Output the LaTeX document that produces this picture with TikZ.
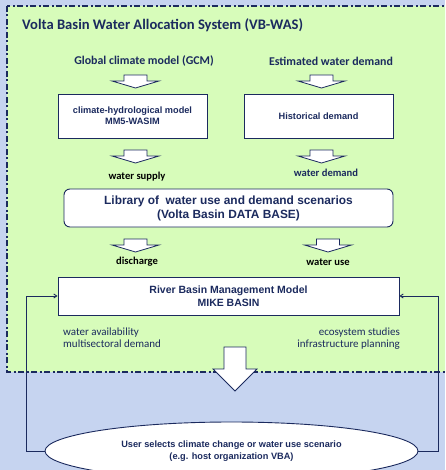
\documentclass[tikz,border=0pt]{standalone}
\usepackage{fontspec}
\setmainfont{Liberation Sans}
\newfontfamily\carlitofont{Carlito}
\usetikzlibrary{shapes.geometric,arrows.meta}
\definecolor{navy}{HTML}{1B2A5E}
\definecolor{bgblue}{HTML}{C6D4F0}
\definecolor{bggreen}{HTML}{D7FCBA}
\tikzset{
  box/.style={draw=navy, line width=0.9pt, fill=white, inner sep=0pt, align=center, text=navy, font=\bfseries\fontsize{9.2}{11}\selectfont},
  lbl/.style={inner sep=0pt, text=navy, font=\carlitofont\bfseries\fontsize{11.9}{13}\selectfont},
  sublbl/.style={inner sep=0pt, font=\carlitofont\bfseries\fontsize{10.6}{12}\selectfont},
  note/.style={inner sep=0pt, text=navy, font=\carlitofont\fontsize{11}{12}\selectfont},
  barrow/.style={draw=navy, fill=white, line width=0.8pt, line join=miter},
  pics/smallarrow/.style={code={
    \path[barrow] (-11.5,0) -- (11.5,0) -- (11.5,6) -- (23.5,6) -- (0,13) -- (-23.5,6) -- (-11.5,6) -- cycle;
  }},
}
\begin{document}
\begin{tikzpicture}[x=1pt,y=-1pt]
\useasboundingbox (0,0) rectangle (445,470);
\clip (0,0) rectangle (445,470);
\fill[bgblue] (0,0) rectangle (445,470);
\draw[navy, fill=bggreen, line width=1.6pt, dash pattern=on 6pt off 2.5pt on 2pt off 2.5pt] (7,6) rectangle (455,372);
% title
\node[anchor=west, inner sep=0pt, text=navy, font=\carlitofont\bfseries\fontsize{14.6}{16}\selectfont] (title) at (22,25) {Volta Basin Water Allocation System (VB-WAS)};
\node[lbl] (gcm) at (144,61) {Global climate model (GCM)};
\node[lbl] (ewd) at (331,61) {Estimated water demand};
\pic at (135.5,75) {smallarrow};
\pic at (321.5,75) {smallarrow};
\node[box, minimum width=149pt, minimum height=44pt] (chm) at (132.5,116) {climate-hydrological model\\MM5-WASIM};
\node[box, minimum width=149pt, minimum height=44pt] (hd) at (318.5,116) {Historical demand};
\pic at (135.5,150) {smallarrow};
\pic at (321.5,150) {smallarrow};
\node[sublbl] (ws) at (137,177) {water supply};
\node[sublbl, text=navy] (wd) at (326,173) {water demand};
\node[box, rounded corners=6pt, minimum width=329pt, minimum height=38pt, font=\bfseries\fontsize{11.9}{14}\selectfont] (lib) at (228.5,208) {Library of\ \ water use and demand scenarios\\(Volta Basin DATA BASE)};
\pic at (135.5,239) {smallarrow};
\pic at (328,239) {smallarrow};
\node[sublbl] (dis) at (137,262) {discharge};
\node[sublbl] (wu) at (328,262) {water use};
\node[box, minimum width=341pt, minimum height=38pt, font=\bfseries\fontsize{10.5}{13}\selectfont] (rbm) at (228.5,296) {River Basin Management Model\\MIKE BASIN};
\node[note, anchor=north west, align=left] (wa) at (63,328) {water availability\\multisectoral demand};
\node[note, anchor=north east, align=right] (es) at (400,328) {ecosystem studies\\infrastructure planning};
\node[draw=navy, line width=0.9pt, fill=white, ellipse, minimum width=373pt, minimum height=58pt, inner sep=0pt, align=center, text=navy, font=\bfseries\fontsize{9.2}{11.5}\selectfont] (ell) at (231.5,451) {User selects climate change or water use scenario\\(e.g. host organization VBA)};
\path[barrow] (224,347) -- (246,347) -- (246,369) -- (257,369) -- (235,391) -- (213,369) -- (224,369) -- cycle;
\coordinate (cl) at (26,451);
\coordinate (cr) at (438,451);
\draw[navy, line width=0.9pt, -{Straight Barb[length=3pt,width=4pt]}] (ell.west) -- (cl) |- (rbm.west);
\draw[navy, line width=0.9pt, -{Straight Barb[length=3pt,width=4pt]}] (ell.east) -- (cr) |- (rbm.east);
\end{tikzpicture}
\end{document}
